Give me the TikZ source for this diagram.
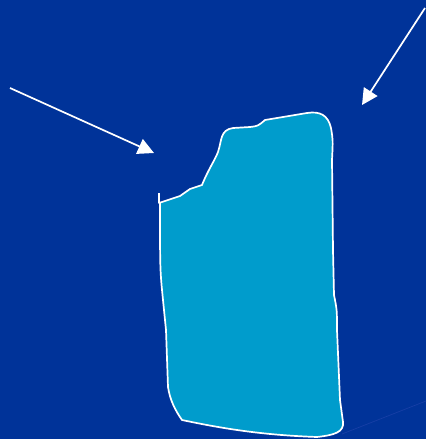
\documentclass[tikz,border=0pt]{standalone}
\usepackage{xcolor}
\usepackage{tikz}
\usetikzlibrary{arrows.meta}
\definecolor{ScreenBlue}{HTML}{003399}
\definecolor{PieceCyan}{HTML}{009CCC}
\definecolor{FaintLine}{HTML}{173FA6}

\begin{document}
\begin{tikzpicture}[
    x=1pt, y=-1pt,
    piece/.style={draw=white, fill=PieceCyan, line width=1.7pt, line join=round},
    arr/.style={draw=white, line width=1.7pt, -{Triangle[length=16pt, width=16pt]}}
  ]
    % background
    \fill[ScreenBlue] (0,0) rectangle (426,439);
    \useasboundingbox (0,0) rectangle (426,439);

    % arrow end points
    \coordinate (leftstart) at (10,88);
    \coordinate (lefttip) at (154,153);
    \coordinate (rightstart) at (425,8);
    \coordinate (righttip) at (362,105);

    % the piece
    \draw[piece] (159,203) -- (180,196) .. controls (185,192) .. (190,189)
      -- (202,185) .. controls (208,170) and (215,160) .. (218,152)
      .. controls (222,140) and (220,130) .. (233,128) -- (250,127)
      .. controls (258,126) .. (265,120) -- (307,113)
      .. controls (320,111) and (328,115) .. (331,128)
      .. controls (333,140) .. (332,160) -- (333,250) -- (334,295)
      .. controls (337,310) .. (337,330) -- (340,400) -- (343,422)
      .. controls (344,432) and (335,435) .. (317,437)
      .. controls (260,435) and (220,428) .. (182,420)
      .. controls (175,410) and (170,400) .. (168,387) -- (166,330)
      -- (163,300) .. controls (160,270) .. (160,203) -- cycle;
    \draw[white, line width=1.7pt] (159,193) -- (159,203);

    % faint line lower right
    \draw[FaintLine, line width=0.7pt] (342,434) -- (426,401);

    \draw[arr] (leftstart) -- (lefttip);
    \draw[arr] (rightstart) -- (righttip);
  \end{tikzpicture}
\end{document}
